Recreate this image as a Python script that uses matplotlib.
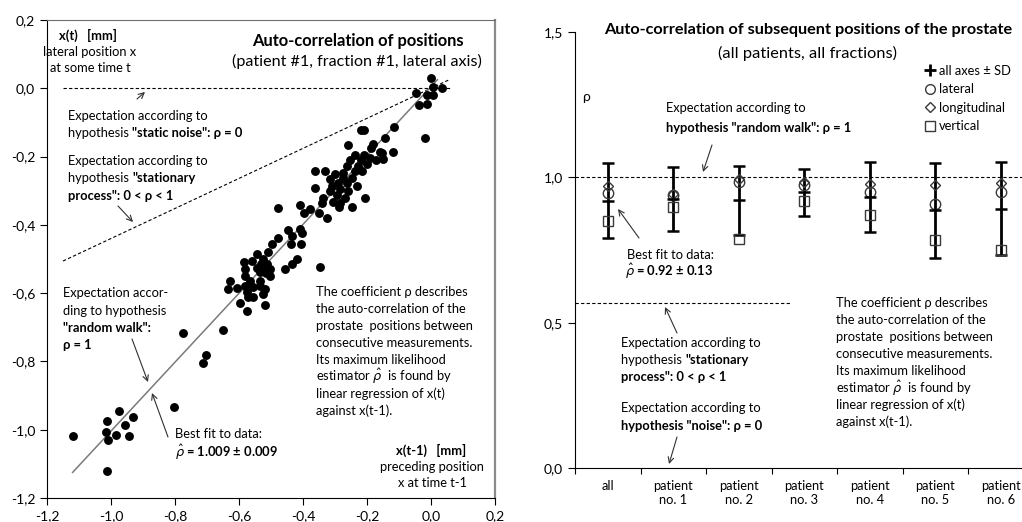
import numpy as np
import matplotlib.pyplot as plt
from matplotlib.lines import Line2D

plt.rcParams['font.family'] = ['Lato', 'DejaVu Sans']
plt.rcParams['mathtext.fontset'] = 'dejavusans'

# --- left panel: x(t) against x(t-1), patient 1, fraction 1, lateral axis
x_prev = [0.000, 0.007, 0.033, 0.005, -0.013, -0.048, -0.013, -0.037, -0.019, -0.116,
          -0.144, -0.118, -0.154, -0.149, -0.220, -0.210, -0.258, -0.182, -0.188, -0.159,
          -0.238, -0.209, -0.191, -0.253, -0.220, -0.172, -0.263, -0.227, -0.201, -0.238,
          -0.217, -0.274, -0.362, -0.331, -0.300, -0.274, -0.248, -0.316, -0.290, -0.263,
          -0.232, -0.310, -0.362, -0.284, -0.258, -0.316, -0.295, -0.269, -0.337, -0.206,
          -0.305, -0.284, -0.342, -0.248, -0.287, -0.409, -0.378, -0.397, -0.326, -0.477,
          -0.349, -0.446, -0.409, -0.435, -0.404, -0.477, -0.498, -0.438, -0.407, -0.508,
          -0.543, -0.560, -0.584, -0.524, -0.513, -0.524, -0.503, -0.581, -0.534, -0.503,
          -0.420, -0.435, -0.456, -0.581, -0.628, -0.566, -0.534, -0.581, -0.555, -0.633,
          -0.607, -0.519, -0.524, -0.571, -0.555, -0.597, -0.576, -0.519, -0.347, -0.574,
          -0.534, -0.515, -0.530, -0.545, -1.118, -1.013, -0.974, -0.932, -1.016, -0.984,
          -0.957, -0.944, -1.008, -1.013, -0.802, -0.775, -0.651, -0.704, -0.713]
x_curr = [0.031, 0.003, 0.000, -0.020, -0.020, -0.013, -0.046, -0.050, -0.146, -0.114,
          -0.147, -0.186, -0.189, -0.208, -0.121, -0.121, -0.166, -0.163, -0.176, -0.186,
          -0.196, -0.196, -0.203, -0.211, -0.211, -0.211, -0.228, -0.228, -0.223, -0.242,
          -0.242, -0.247, -0.242, -0.242, -0.252, -0.262, -0.262, -0.267, -0.276, -0.276,
          -0.286, -0.286, -0.291, -0.296, -0.301, -0.301, -0.312, -0.320, -0.322, -0.322,
          -0.332, -0.335, -0.335, -0.349, -0.349, -0.342, -0.354, -0.364, -0.379, -0.352,
          -0.364, -0.416, -0.413, -0.432, -0.425, -0.439, -0.455, -0.456, -0.456, -0.479,
          -0.484, -0.505, -0.510, -0.500, -0.515, -0.529, -0.529, -0.529, -0.539, -0.549,
          -0.500, -0.515, -0.529, -0.549, -0.564, -0.564, -0.564, -0.578, -0.581, -0.588,
          -0.586, -0.588, -0.602, -0.612, -0.612, -0.630, -0.651, -0.636, -0.523, -0.598,
          -0.578, -0.540, -0.515, -0.525, -1.018, -0.975, -0.946, -0.963, -1.008, -1.015,
          -0.987, -1.018, -1.031, -1.120, -0.934, -0.716, -0.707, -0.780, -0.804]
rho_fit = 1.009
rho_fit_err = 0.009
fit_offset = 0.005
rho_stationary = 0.44

# --- right panel: estimated rho per patient
categories = ['all', 'patient\nno. 1', 'patient\nno. 2', 'patient\nno. 3',
              'patient\nno. 4', 'patient\nno. 5', 'patient\nno. 6']
rho_mean = [0.92, 0.926, 0.921, 0.948, 0.932, 0.887, 0.892]
rho_sd = [0.13, 0.11, 0.118, 0.082, 0.12, 0.163, 0.16]
rho_lateral = [0.946, 0.94, 0.984, 0.975, 0.95, 0.907, 0.95]
rho_longitudinal = [0.969, 0.944, 0.995, 0.984, 0.978, 0.975, 0.981]
rho_vertical = [0.849, 0.898, 0.789, 0.917, 0.869, 0.784, 0.751]
rho_stationary_level = 0.568

W, H = 1022, 522
BODY = 9.3
fig = plt.figure(figsize=(W / 100, H / 100), dpi=100)


def comma(v):
    return f'{round(v, 1) + 0.0:.1f}'.replace('.', ',')


def fpos(x, y):
    return x / W, 1 - y / H


def write(ax, x, y, parts, size=BODY):
    # left-aligned line made of (text, bold) pieces, placed in figure pixels
    s, b = parts[0]
    t = ax.annotate(s, xy=fpos(x, y), xycoords='figure fraction', va='center', ha='left',
                    fontsize=size, fontweight='bold' if b else 'normal', annotation_clip=False)
    for s, b in parts[1:]:
        t = ax.annotate(s, xy=(1, 0), xycoords=t, va='bottom', ha='left',
                        fontsize=size, fontweight='bold' if b else 'normal', annotation_clip=False)


def centered(ax, x, y, s, size=BODY, bold=False):
    ax.annotate(s, xy=fpos(x, y), xycoords='figure fraction', va='center', ha='center',
                fontsize=size, fontweight='bold' if bold else 'normal', annotation_clip=False)


def arrow(ax, start, end):
    ax.annotate('', xy=fpos(*end), xytext=fpos(*start), xycoords='figure fraction',
                textcoords='figure fraction',
                arrowprops=dict(arrowstyle='->', lw=0.8, color='#303030',
                                shrinkA=0, shrinkB=0, mutation_scale=10),
                annotation_clip=False)


# ---------------- left panel
axL = fig.add_axes([47 / W, 1 - 498 / H, 448 / W, 478 / H])
axL.set_xlim(-1.2, 0.2)
axL.set_ylim(-1.2, 0.2)
ticks = np.round(np.arange(-1.2, 0.21, 0.2), 1)
axL.set_xticks(ticks, [comma(t) for t in ticks])
axL.set_yticks(ticks, [comma(t) for t in ticks])
axL.tick_params(direction='out', length=5, labelsize=10, width=0.8)
for side in ['left', 'bottom']:
    axL.spines[side].set_color('black')
    axL.spines[side].set_linewidth(0.8)
axL.spines['top'].set_color('#6e6e6e')
axL.spines['right'].set_color('#8a8a8a')
axL.spines['right'].set_linewidth(1.6)

xx = np.array([-1.15, 0.06])
axL.plot(xx, [0, 0], color='black', lw=0.8, dashes=(3, 2))
axL.plot(xx, rho_stationary * xx, color='black', lw=0.8, dashes=(3, 2))
xf = np.array([-1.12, 0.02])
axL.plot(xf, rho_fit * xf + fit_offset, color='#7a7a7a', lw=1.1)
axL.plot(x_prev, x_curr, 'o', color='black', ms=6.4, mew=0)

centered(axL, 88, 35, 'x(t)   [mm]', BODY, True)
centered(axL, 90, 52, 'lateral position x')
centered(axL, 90, 68, 'at some time t')
centered(axL, 358, 41, 'Auto-correlation of positions', 11.9, True)
centered(axL, 357, 61, '(patient #1, fraction #1, lateral axis)', 11.6)

write(axL, 68, 116, [('Expectation according to', False)])
write(axL, 68, 133, [('hypothesis ', False), ('"static noise": ρ = 0', True)])
arrow(axL, (137, 99), (145, 92))
write(axL, 68, 161, [('Expectation according to', False)])
write(axL, 68, 178, [('hypothesis ', False), ('"stationary', True)])
write(axL, 68, 196, [('process": 0 < ρ < 1', True)])
arrow(axL, (118, 206), (133, 222))

write(axL, 63, 293, [('Expectation accor-', False)])
write(axL, 63, 311, [('ding to hypothesis', False)])
write(axL, 63, 328, [('"random walk":', True)])
write(axL, 63, 345, [('ρ = 1', True)])
arrow(axL, (132, 339), (148, 382))

write(axL, 175, 434, [('Best fit to data:', False)])
write(axL, 175, 452, [(r'$\hat{\rho}$' + f' = {rho_fit:.3f} ± {rho_fit_err:.3f}', True)])
arrow(axL, (168, 437), (152, 393))

note = ['The coefficient ρ describes', 'the auto-correlation of the',
        'prostate  positions between', 'consecutive measurements.',
        'Its maximum likelihood', r'estimator $\hat{\rho}$  is found by',
        'linear regression of x(t)', 'against x(t-1).']
for i, line in enumerate(note):
    write(axL, 316, 292 + 16.9 * i, [(line, False)])

centered(axL, 431, 450, 'x(t-1)   [mm]', BODY, True)
centered(axL, 432, 467, 'preceding position')
centered(axL, 432, 483, 'x at time t-1')

# ---------------- right panel
axR = fig.add_axes([575 / W, 1 - 468 / H, 458.5 / W, 436 / H])
axR.set_xlim(0, 7)
axR.set_ylim(0, 1.5)
pos = np.arange(len(categories)) + 0.5
axR.set_xticks(np.arange(8), [''] * 8)
axR.set_xticks(pos, categories, minor=True)
axR.tick_params(axis='x', which='minor', length=0, labelsize=BODY, pad=9)
axR.tick_params(axis='x', which='major', direction='out', length=4, width=0.8)
yt = [0.0, 0.5, 1.0, 1.5]
axR.set_yticks(yt, [comma(t) for t in yt])
axR.tick_params(axis='y', direction='out', length=5, labelsize=10, width=0.8)
axR.spines['top'].set_visible(False)
axR.spines['right'].set_visible(False)
for side in ['left', 'bottom']:
    axR.spines[side].set_linewidth(0.8)

axR.plot([0, 7], [1.0, 1.0], color='black', lw=0.8, dashes=(3, 2), clip_on=False)
axR.plot([0, 3.28], [rho_stationary_level] * 2, color='black', lw=0.8, dashes=(3, 2))

axR.errorbar(pos, rho_mean, yerr=rho_sd, fmt='_', color='black', ms=8, mew=1.8,
             elinewidth=2, capsize=4, capthick=2, clip_on=False)
axR.plot(pos, rho_lateral, 'o', ms=7.5, mfc='none', mec='#3a3a3a', mew=1, clip_on=False)
axR.plot(pos, rho_longitudinal, 'D', ms=4.8, mfc='none', mec='#3a3a3a', mew=1, clip_on=False)
axR.plot(pos, rho_vertical, 's', ms=7, mfc='none', mec='#3a3a3a', mew=1, clip_on=False)

handles = [Line2D([], [], ls='none', marker='+', ms=8, mew=2, color='black'),
           Line2D([], [], ls='none', marker='o', ms=7, mfc='none', mec='#3a3a3a', mew=1),
           Line2D([], [], ls='none', marker='D', ms=5, mfc='none', mec='#3a3a3a', mew=1),
           Line2D([], [], ls='none', marker='s', ms=7, mfc='none', mec='#3a3a3a', mew=1)]
axR.legend(handles, ['all axes ± SD', 'lateral', 'longitudinal', 'vertical'],
           loc='upper left', bbox_to_anchor=fpos(925, 65), bbox_transform=fig.transFigure,
           frameon=False, fontsize=BODY, handlelength=0.8, handletextpad=0.3,
           labelspacing=0.5, borderpad=0, borderaxespad=0)

centered(axR, 808, 30, 'Auto-correlation of subsequent positions of the prostate', 11.7, True)
centered(axR, 808, 53, '(all patients, all fractions)', 11.8)
write(axR, 582, 97, [('ρ', False)], 10)

write(axR, 666, 108, [('Expectation according to', False)])
write(axR, 666, 128, [('hypothesis "random walk": ρ = 1', True)])
arrow(axR, (712, 145), (703, 172))

write(axR, 627, 255, [('Best fit to data:', False)])
write(axR, 625, 271, [(r'$\hat{\rho}$' + f' = {rho_mean[0]:.2f} ± {rho_sd[0]:.2f}', True)])
arrow(axR, (639, 238), (618, 209))

write(axR, 621, 343, [('Expectation according to', False)])
write(axR, 621, 360, [('hypothesis ', False), ('"stationary', True)])
write(axR, 621, 377, [('process": 0 < ρ < 1', True)])
arrow(axR, (677, 333), (665, 307))

write(axR, 621, 408, [('Expectation according to', False)])
write(axR, 621, 426, [('hypothesis "noise": ρ = 0', True)])
arrow(axR, (677, 437), (669, 464))

for i, line in enumerate(note):
    write(axR, 836, 303 + 17 * i, [(line, False)])

fig.savefig('out.png', dpi=100)
